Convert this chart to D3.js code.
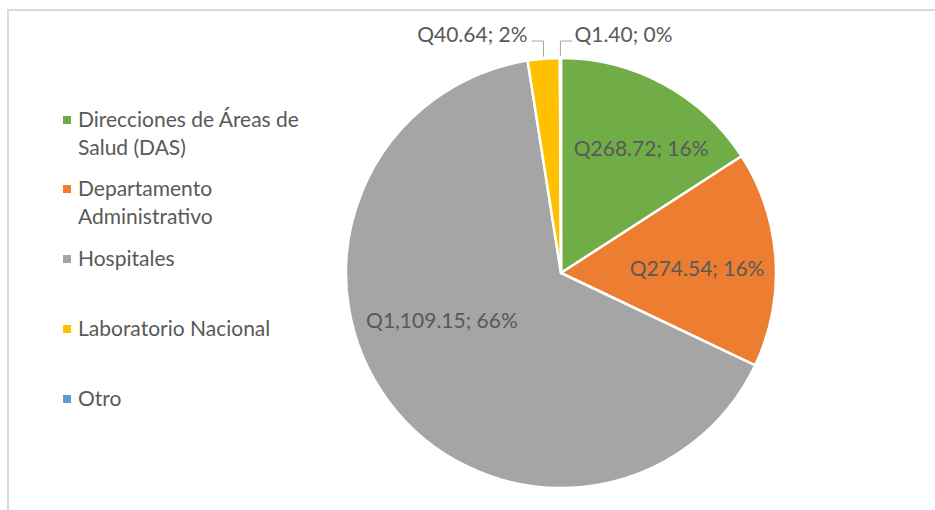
<!DOCTYPE html>
<html>
<head>
<meta charset="utf-8">
<script src="https://cdn.jsdelivr.net/npm/d3@7"></script>
<style>
  html, body { margin: 0; padding: 0; background: #fff; }
  svg { display: block; font-family: Lato, "Open Sans", sans-serif; font-weight: 400; }
</style>
</head>
<body>
<svg id="chart" width="935" height="510"></svg>
<script>
/* ================================
   DATA
================================ */

const categories = [
  "Direcciones de Áreas de Salud (DAS)",
  "Departamento Administrativo",
  "Hospitales",
  "Laboratorio Nacional",
  "Otro"
];
const values = [268.72, 274.54, 1109.15, 40.64, 1.40];
const valueLabels = ["Q268.72; 16%", "Q274.54; 16%", "Q1,109.15; 66%", "Q40.64; 2%", "Q1.40; 0%"];
const legendLines = [
  ["Direcciones de Áreas de", "Salud (DAS)"],
  ["Departamento", "Administrativo"],
  ["Hospitales"],
  ["Laboratorio Nacional"],
  ["Otro"]
];
const colors = ["#70ad47", "#ed7d31", "#a5a5a5", "#ffc000", "#5b9bd5"];

/* ================================
   PIE
================================ */

const svg = d3.select("#chart");
const cx = 561, cy = 273, radius = 215;
const textColor = "#595959";
const fontSize = "21px";

// chart frame
svg.append("path")
  .attr("d", "M8,510 V10 H935")
  .attr("fill", "none")
  .attr("stroke", "#d9d9d9")
  .attr("stroke-width", 2);

const color = d3.scaleOrdinal().domain(categories).range(colors);

const pie = d3.pie().sort(null).value(d => d.value);
const data = categories.map((c, i) => ({ name: c, value: values[i], label: valueLabels[i] }));
const arcs = pie(data);

const arc = d3.arc().innerRadius(0).outerRadius(radius);

const g = svg.append("g").attr("transform", `translate(${cx},${cy})`);

g.selectAll("path.slice")
  .data(arcs)
  .join("path")
  .attr("class", "slice")
  .attr("d", arc)
  .attr("fill", d => color(d.data.name))
  .attr("stroke", "#fff")
  .attr("stroke-width", 2.5)
  .attr("stroke-linejoin", "round");

// inside labels for the big slices (Excel nudges them off the exact centroid)
const angleNudge = [0.075, 0.036, 0.259];
const radiusFactor = [0.687, 0.633, 0.597];

g.selectAll("text.inside")
  .data(arcs.filter(d => d.endAngle - d.startAngle > 0.3))
  .join("text")
  .attr("class", "inside")
  .attr("transform", (d, i) => {
    const a = (d.startAngle + d.endAngle) / 2 + angleNudge[i];
    const r = radius * radiusFactor[i];
    return `translate(${Math.sin(a) * r},${-Math.cos(a) * r})`;
  })
  .attr("text-anchor", "middle")
  .attr("dy", "0.35em")
  .style("font-size", fontSize)
  .style("fill", textColor)
  .text(d => d.data.label);

// outside labels with leader lines for the thin slices
const small = arcs.filter(d => d.endAngle - d.startAngle <= 0.3);
small.forEach((d, i) => {
  const mid = (d.startAngle + d.endAngle) / 2;
  const ex = Math.sin(mid) * (radius + 2);
  const ey = -Math.cos(mid) * (radius + 2);
  const left = i === 0;
  const ky = -232;
  const hx = left ? ex - 12 : ex + 12;
  g.append("path")
    .attr("d", `M${ex},${ey} V${ky} H${hx}`)
    .attr("fill", "none")
    .attr("stroke", "#a6a6a6")
    .attr("stroke-width", 1);
  g.append("text")
    .attr("x", left ? hx - 4 : hx + 2)
    .attr("y", ky + 1)
    .attr("text-anchor", left ? "end" : "start")
    .style("font-size", fontSize)
    .style("fill", textColor)
    .text(d.data.label);
});

/* ================================
   LEGEND
================================ */

const legendY = [120, 189, 259, 329, 399];
const legend = svg.append("g");

categories.forEach((c, i) => {
  const row = legend.append("g").attr("transform", `translate(63,${legendY[i]})`);
  row.append("rect")
    .attr("x", 0).attr("y", -4)
    .attr("width", 8).attr("height", 8)
    .attr("fill", color(c));
  const t = row.append("text")
    .attr("y", 0)
    .style("font-size", fontSize)
    .style("fill", textColor);
  legendLines[i].forEach((line, j) => {
    t.append("tspan").attr("x", 15).attr("dy", j === 0 ? "0.35em" : 28).text(line);
  });
});
</script>
</body>
</html>
